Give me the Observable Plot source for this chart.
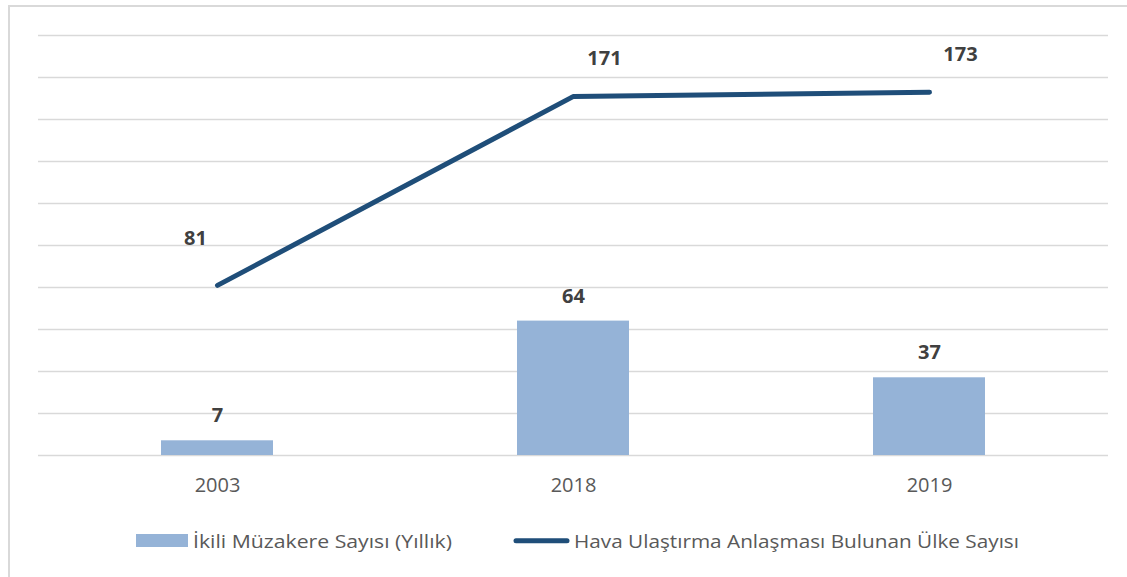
<!DOCTYPE html>
<html>
<head>
<meta charset="utf-8">
<script src="https://cdn.jsdelivr.net/npm/d3@7"></script>
<script src="https://cdn.jsdelivr.net/npm/@observablehq/plot@0.6"></script>
<style>
  html, body { margin: 0; padding: 0; background: #fff; }
  #wrap { position: relative; width: 1127px; height: 577px; overflow: hidden; font-family: "Open Sans", sans-serif; }
  #frame { position: absolute; left: 8px; top: 5px; width: 1200px; height: 700px; border-left: 2px solid #d9d9d9; border-top: 2px solid #d9d9d9; }
  #chart { position: absolute; left: 0; top: 0; }
  #legend { position: absolute; left: 0; top: 520px; }
</style>
</head>
<body>
<div id="wrap">
  <div id="frame"></div>
  <div id="chart"></div>
  <svg id="legend" width="1127" height="50"></svg>
</div>
<script>
const years = ["2003", "2018", "2019"];
const negotiations = [7, 64, 37];
const countries = [81, 171, 173];
const seriesNames = ["İkili Müzakere Sayısı (Yıllık)", "Hava Ulaştırma Anlaşması Bulunan Ülke Sayısı"];
const yTicks = [0, 20, 40, 60, 80, 100, 120, 140, 160, 180, 200];

const data = years.map((y, i) => ({year: y, neg: negotiations[i], cnt: countries[i], i}));

const chart = Plot.plot({
  width: 1127,
  height: 510,
  marginLeft: 38,
  marginRight: 19,
  marginTop: 35,
  marginBottom: 55,
  style: {fontFamily: "Open Sans, sans-serif", background: "transparent"},
  x: {domain: years, padding: 0, label: null},
  y: {domain: [0, 200], axis: null},
  marks: [
    Plot.ruleY(yTicks, {stroke: "#d9d9d9", strokeWidth: 1.5}),
    Plot.barY(data, {x: "year", y: "neg", fill: "#95b3d7", insetLeft: 122, insetRight: 122}),
    Plot.lineY(data, {x: "year", y: "cnt", stroke: "#1f4e79", strokeWidth: 5, strokeLinecap: "round", strokeLinejoin: "round"}),
    Plot.text(data, {x: "year", y: "neg", text: d => String(d.neg), dy: -25, fontSize: 20, fontWeight: "bold", fill: "#404040"}),
    Plot.text(data.filter(d => d.i === 0), {x: "year", y: "cnt", text: d => String(d.cnt), dx: -22, dy: -47, fontSize: 20, fontWeight: "bold", fill: "#404040"}),
    Plot.text(data.filter(d => d.i > 0), {x: "year", y: "cnt", text: d => String(d.cnt), dx: 31, dy: -38, fontSize: 20, fontWeight: "bold", fill: "#404040"}),
    Plot.axisX({tickSize: 0, tickPadding: 22, fontSize: 20, fill: "#595959", label: null})
  ]
});
document.getElementById("chart").appendChild(chart);

// legend (below the plot SVG)
const leg = d3.select("#legend");
leg.append("rect").attr("x", 136).attr("y", 14).attr("width", 52).attr("height", 13).attr("fill", "#95b3d7");
leg.append("text").attr("x", 193).attr("y", 20.5).attr("dominant-baseline", "central")
  .attr("font-family", "Open Sans, sans-serif").attr("font-size", 19).attr("fill", "#595959")
  .attr("textLength", 259).attr("lengthAdjust", "spacingAndGlyphs").text(seriesNames[0]);
leg.append("line").attr("x1", 516).attr("x2", 567).attr("y1", 20.7).attr("y2", 20.7)
  .attr("stroke", "#1f4e79").attr("stroke-width", 5).attr("stroke-linecap", "round");
leg.append("text").attr("x", 574).attr("y", 20.5).attr("dominant-baseline", "central")
  .attr("font-family", "Open Sans, sans-serif").attr("font-size", 19).attr("fill", "#595959")
  .attr("textLength", 445).attr("lengthAdjust", "spacingAndGlyphs").text(seriesNames[1]);
</script>
</body>
</html>
